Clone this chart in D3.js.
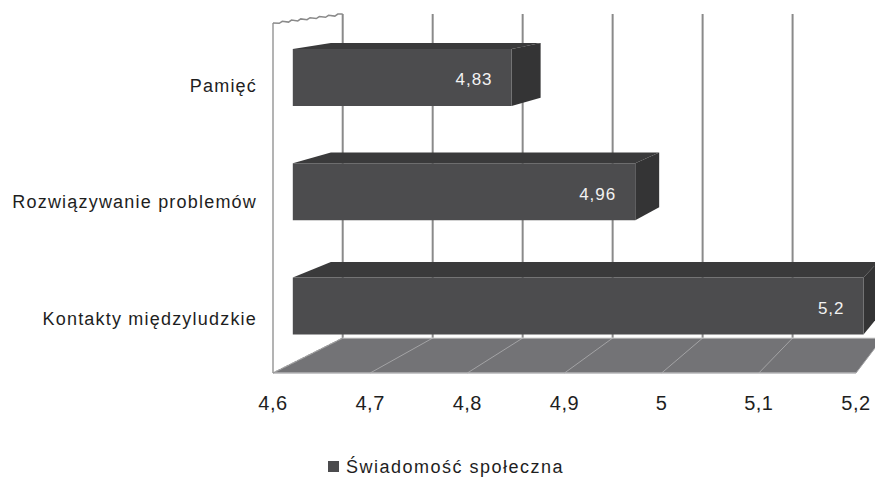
<!DOCTYPE html>
<html>
<head>
<meta charset="utf-8">
<script src="https://cdn.jsdelivr.net/npm/d3@7"></script>
<style>
  html, body { margin: 0; padding: 0; background: #fff; }
  svg { display: block; }
</style>
</head>
<body>
<script>
const categories = ["Pamięć", "Rozwiązywanie problemów", "Kontakty międzyludzkie"];
const values = [4.83, 4.96, 5.2];
const valueLabels = ["4,83", "4,96", "5,2"];
const xTicks = [4.6, 4.7, 4.8, 4.9, 5.0, 5.1, 5.2];
const xTickLabels = ["4,6", "4,7", "4,8", "4,9", "5", "5,1", "5,2"];
const seriesName = "Świadomość społeczna";

const W = 875, H = 480;
const svg = d3.select("body").append("svg").attr("width", W).attr("height", H);
svg.append("rect").attr("width", W).attr("height", H).attr("fill", "#fff");

// front-plane scales
const x = d3.scaleLinear().domain([4.6, 5.2]).range([273, 856]);
const y = d3.scaleBand().domain(categories).range([23, 373]).paddingInner(0.5).paddingOuter(0.25);
// depth -> perspective factor
const depth = d3.scaleLinear().domain([0, 1]).range([1, 0.926]);
const VP = [1215, -99];
function P(px, py, d) {
  const s = depth(d);
  return [VP[0] + (px - VP[0]) * s, VP[1] + (py - VP[1]) * s];
}
const line = d3.line();
const floorY = 373, topY = 23;
const barFront = 0.284, barBack = 0.83;
const x0 = x.domain()[0], x1 = x.domain()[1];

// back-wall gridlines
svg.append("g").selectAll("line").data(xTicks).join("line")
  .attr("x1", d => P(x(d), topY, 1)[0]).attr("y1", d => P(x(d), topY, 1)[1])
  .attr("x2", d => P(x(d), floorY, 1)[0]).attr("y2", d => P(x(d), floorY, 1)[1])
  .attr("stroke", "#8a8a8a").attr("stroke-width", 2);

// floor
svg.append("path")
  .attr("d", line([P(x(x0), floorY, 0), P(x(x1), floorY, 0), P(x(x1), floorY, 1), P(x(x0), floorY, 1)]) + "Z")
  .attr("fill", "#737376");
svg.append("g").selectAll("line").data(xTicks).join("line")
  .attr("x1", d => P(x(d), floorY, 0)[0]).attr("y1", d => P(x(d), floorY, 0)[1])
  .attr("x2", d => P(x(d), floorY, 1)[0]).attr("y2", d => P(x(d), floorY, 1)[1])
  .attr("stroke", "#a3a3a5").attr("stroke-width", 1);
svg.append("path")
  .attr("d", line([P(x(x0), floorY, 0), P(x(x1), floorY, 0)]))
  .attr("stroke", "#b5b5b7").attr("stroke-width", 1.5).attr("fill", "none");
svg.append("path")
  .attr("d", line([P(x(x0), floorY, 1), P(x(x1), floorY, 1)]))
  .attr("stroke", "#d0d0d0").attr("stroke-width", 1).attr("fill", "none");

// left wall outline
svg.append("path")
  .attr("d", line([P(x(x0), floorY, 0), P(x(x0), topY, 0)]))
  .attr("stroke", "#9a9a9a").attr("stroke-width", 1.5).attr("fill", "none");
svg.append("path")
  .attr("d", line([P(x(x0), floorY, 0), P(x(x0), floorY, 1)]))
  .attr("stroke", "#9a9a9a").attr("stroke-width", 1.2).attr("stroke-dasharray", "2,1").attr("fill", "none");
// serrated top edge of the wall
const nSteps = 7;
const zz = [P(x(x0), topY, 0)];
for (let i = 0; i < nSteps; i++) {
  const a = P(x(x0), topY, (i / nSteps) * 0.93);
  const b = P(x(x0), topY, ((i + 1) / nSteps) * 0.93);
  zz.push([b[0] - 3, a[1] + 0.3]);
  zz.push([b[0], b[1] - 0.5]);
}
zz.push(P(x(x0), topY, 1));
svg.append("path").attr("d", line(zz))
  .attr("stroke", "#8a8a8a").attr("stroke-width", 1.5).attr("fill", "none");

// bars
const bars = svg.append("g");
categories.forEach((c, i) => {
  const v = values[i];
  const t = y(c), b = y(c) + y.bandwidth();
  const FTL = P(x(x0), t, barFront), FTR = P(x(v), t, barFront),
        FBR = P(x(v), b, barFront), FBL = P(x(x0), b, barFront);
  const BTL = P(x(x0), t, barBack), BTR = P(x(v), t, barBack), BBR = P(x(v), b, barBack);
  bars.append("path").attr("d", line([FTL, FTR, BTR, BTL]) + "Z").attr("fill", "#3a3a3b");
  bars.append("path").attr("d", line([FTR, BTR, BBR, FBR]) + "Z").attr("fill", "#343435");
  bars.append("path").attr("d", line([FTL, FTR, FBR, FBL]) + "Z").attr("fill", "#4c4c4e");
  bars.append("text")
    .attr("x", FTR[0] - 19).attr("y", (FTR[1] + FBR[1]) / 2 + 2)
    .attr("dy", "0.35em").attr("text-anchor", "end")
    .attr("font-family", "'Liberation Sans', Arial, sans-serif").attr("font-size", 17)
    .attr("letter-spacing", "1px").attr("fill", "#f2f2f2")
    .text(valueLabels[i]);
});

// category labels
svg.append("g").selectAll("text").data(categories).join("text")
  .attr("x", 257).attr("y", d => y(d) + y.bandwidth() / 2 + 4)
  .attr("dy", "0.35em").attr("text-anchor", "end")
  .attr("font-family", "'Liberation Sans', Arial, sans-serif").attr("font-size", 18)
  .attr("letter-spacing", "1.2px").attr("fill", "#1e1e1e")
  .text(d => d);

// x tick labels
svg.append("g").selectAll("text").data(xTicks).join("text")
  .attr("x", d => P(x(d), floorY, 0)[0]).attr("y", 410)
  .attr("text-anchor", "middle")
  .attr("font-family", "'Liberation Sans', Arial, sans-serif").attr("font-size", 20)
  .attr("letter-spacing", "0.5px").attr("fill", "#1e1e1e")
  .text((d, i) => xTickLabels[i]);

// legend
const lg = svg.append("g");
lg.append("rect").attr("x", 328).attr("y", 461).attr("width", 11).attr("height", 11).attr("fill", "#4c4c4e");
lg.append("text").attr("x", 346).attr("y", 473)
  .attr("font-family", "'Liberation Sans', Arial, sans-serif").attr("font-size", 18)
  .attr("letter-spacing", "1.5px").attr("fill", "#1e1e1e")
  .text(seriesName);
</script>
</body>
</html>
